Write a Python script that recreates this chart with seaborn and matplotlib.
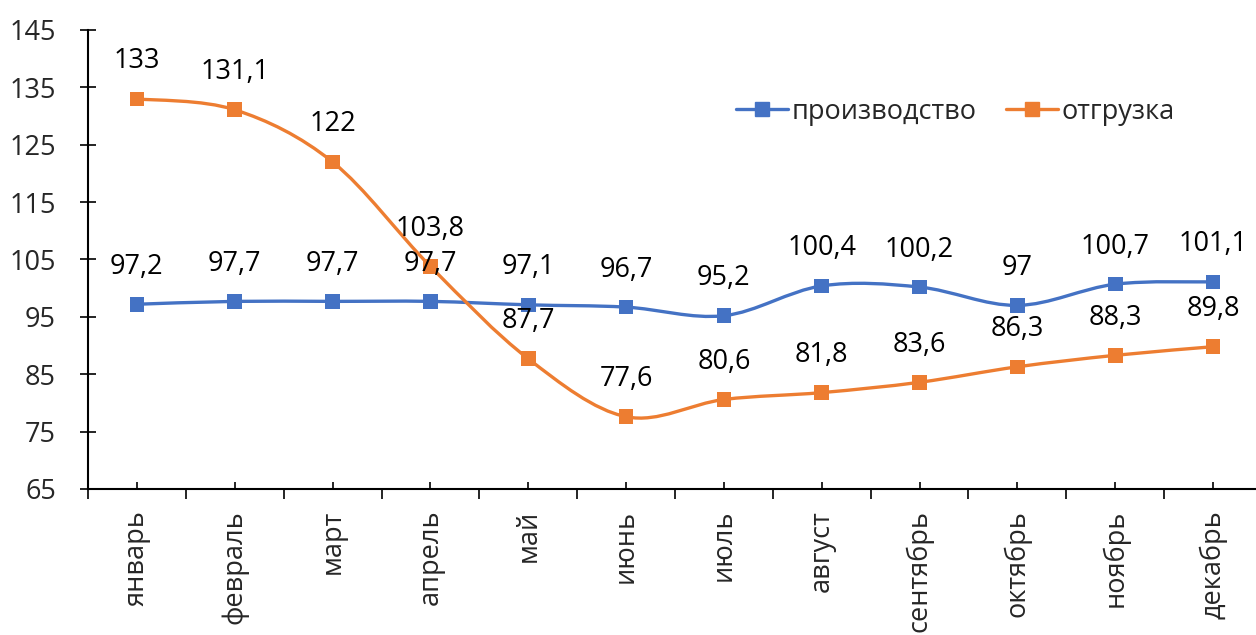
import numpy as np
import pandas as pd
import matplotlib
matplotlib.use("Agg")
import matplotlib.pyplot as plt
import seaborn as sns
from matplotlib.path import Path
from matplotlib.patches import PathPatch
from matplotlib.lines import Line2D
from matplotlib.ticker import FixedLocator

months = ['январь', 'февраль', 'март', 'апрель', 'май', 'июнь',
          'июль', 'август', 'сентябрь', 'октябрь', 'ноябрь', 'декабрь']
production = [97.2, 97.7, 97.7, 97.7, 97.1, 96.7, 95.2, 100.4, 100.2, 97, 100.7, 101.1]
shipment = [133, 131.1, 122, 103.8, 87.7, 77.6, 80.6, 81.8, 83.6, 86.3, 88.3, 89.8]
series_names = ['производство', 'отгрузка']
colors = ['#4472C4', '#ED7D31']
y_ticks = list(range(65, 146, 10))

sns.set_style("white")
plt.rcParams['font.family'] = ['Open Sans', 'DejaVu Sans']
plt.rcParams['font.size'] = 19.5


def smooth_path(xs, ys):
    """Excel-style smoothed line as cubic bezier path"""
    pts = np.column_stack([xs, ys]).astype(float)
    n = len(pts)
    verts = [pts[0]]
    codes = [Path.MOVETO]
    for i in range(n - 1):
        p0 = pts[i - 1] if i > 0 else pts[i]
        p1 = pts[i]
        p2 = pts[i + 1]
        p3 = pts[i + 2] if i + 2 < n else pts[i + 1]
        verts += [p1 + (p2 - p0) / 6, p2 - (p3 - p1) / 6, p2]
        codes += [Path.CURVE4] * 3
    return Path(verts, codes)


def fmt(v):
    s = f'{v:g}'
    return s.replace('.', ',')


x = np.arange(len(months))
df = pd.DataFrame({
    'x': np.concatenate([x, x]),
    'value': production + shipment,
    'series': [series_names[0]] * len(x) + [series_names[1]] * len(x),
})

fig = plt.figure(figsize=(12.56, 6.35), dpi=100)
ax = fig.add_axes([88 / 1256, 146 / 635, 1174 / 1256, 459 / 635])

for vals, c in zip([production, shipment], colors):
    ax.add_patch(PathPatch(smooth_path(x, vals), facecolor='none',
                           edgecolor=c, lw=2.4, zorder=2, capstyle='round'))

sns.scatterplot(data=df, x='x', y='value', hue='series', palette=colors,
                marker='s', s=110, edgecolor='none', legend=False, ax=ax, zorder=3)

for vals in [production, shipment]:
    for xi, v in zip(x, vals):
        ax.annotate(fmt(v), (xi, v), xytext=(0, 27), textcoords='offset points',
                    ha='center', va='center', fontsize=19.5, color='black')

ax.set_xlim(-0.5, 11.5)
ax.set_ylim(65, 145)
ax.set_yticks(y_ticks)
ax.set_xticks(x)
ax.set_xticklabels(months, rotation=90, va='top', ha='center')
ax.xaxis.set_minor_locator(FixedLocator(np.arange(-0.5, 12, 1)))
ax.set_xlabel('')
ax.set_ylabel('')

for side in ['top', 'right']:
    ax.spines[side].set_visible(False)
for side in ['left', 'bottom']:
    ax.spines[side].set_color('black')
    ax.spines[side].set_linewidth(1.5)

ax.tick_params(axis='y', which='major', left=True, direction='inout', length=12,
               width=1.2, color='black', pad=17, labelsize=19.5)
ax.tick_params(axis='x', which='major', bottom=True, direction='in', length=5,
               width=1.2, color='black', pad=15, labelsize=19.5)
ax.tick_params(axis='x', which='minor', bottom=True, direction='out', length=7,
               width=1.2, color='black')

handles = [Line2D([], [], color=c, lw=2.4, marker='s', markersize=10)
           for c in colors]
ax.legend(handles, series_names, loc='center', bbox_to_anchor=(0.739, 0.822),
          ncol=2, frameon=False, fontsize=19.5, handlelength=1.9,
          handletextpad=0.15, columnspacing=1.1)

fig.savefig('out.png', dpi=100)
